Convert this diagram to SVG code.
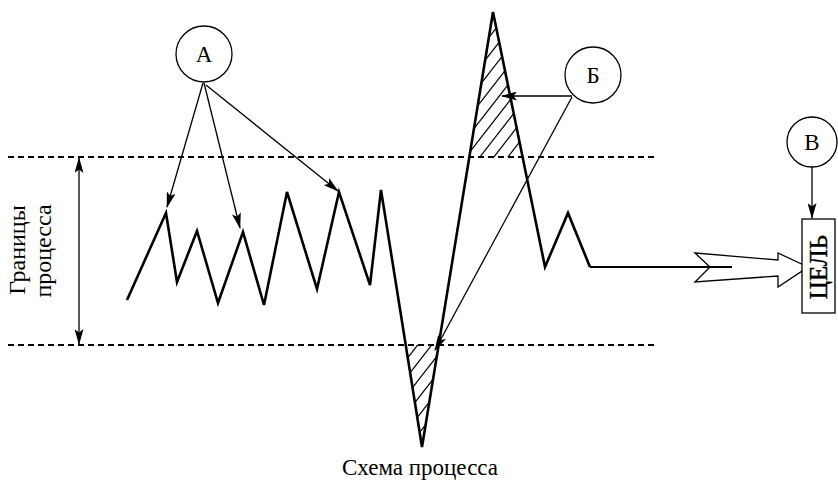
<svg xmlns="http://www.w3.org/2000/svg" width="838" height="482" viewBox="0 0 838 482">
<style>
.dash{stroke:#000;stroke-width:2;stroke-dasharray:6 4;fill:none}
.zig{stroke:#000;stroke-width:2.6;fill:none;stroke-linejoin:miter}
.thin{stroke:#000;stroke-width:1.3;fill:none}
.circ{stroke:#000;stroke-width:1.3;fill:#fff}
.lbl{font-family:"Liberation Serif","Times New Roman",serif;fill:#000}
</style>
<defs>
<marker id="ah" viewBox="0 0 16 9" markerWidth="16" markerHeight="9" refX="15" refY="4.5" orient="auto-start-reverse" markerUnits="userSpaceOnUse">
<path d="M0,0 L16,4.5 L0,9 L3.5,4.5 z" fill="#000"/>
</marker>
<pattern id="hatch" patternUnits="userSpaceOnUse" width="14" height="18">
<path d="M0,18 L14,0 M-2,2.5 L2,-2.5 M12,20.5 L16,15.5" stroke="#000" stroke-width="1.2"/>
</pattern>
</defs>
<g id="bounds">
<line class="dash" x1="8" y1="157" x2="657" y2="157"/>
<line class="dash" x1="8" y1="345" x2="657" y2="345"/>
</g>
<g id="hatching">
<polygon points="493,12 469,157 523,157" fill="url(#hatch)"/>
<polygon points="406,345 439,345 422,447" fill="url(#hatch)"/>
</g>
<g id="process">
<polyline class="zig" points="127,300 166,213 177,282 197,231 218,303 243,232 264,305 287,192 317,289 339,192 370,285 381,190 422,447 493,12 545,267 568,213 590,267"/>
<line x1="590" y1="267" x2="732" y2="267" stroke="#000" stroke-width="2"/>
</g>
<g id="goal-arrow">
<polygon class="thin" points="695,253 778,260 778,253 808,267 778,287 778,276 695,282 710,267"/>
</g>
<g id="connectors">
<line class="thin" x1="203" y1="83" x2="167" y2="207" marker-end="url(#ah)"/>
<line class="thin" x1="204" y1="83" x2="240" y2="228" marker-end="url(#ah)"/>
<line class="thin" x1="206" y1="85" x2="338" y2="191" marker-end="url(#ah)"/>
<line class="thin" x1="572" y1="96" x2="502" y2="96" marker-end="url(#ah)"/>
<line class="thin" x1="572" y1="97" x2="435" y2="350" marker-end="url(#ah)"/>
<line class="thin" x1="812" y1="167" x2="812" y2="218" marker-end="url(#ah)"/>
<line class="thin" x1="79" y1="158" x2="79" y2="344" marker-start="url(#ah)" marker-end="url(#ah)"/>
</g>
<g id="nodeA">
<circle class="circ" cx="204" cy="54" r="28"/>
<text class="lbl" x="204" y="62" font-size="23" text-anchor="middle">А</text>
</g>
<g id="nodeB1">
<circle class="circ" cx="593" cy="75" r="28"/>
<text class="lbl" x="593" y="83" font-size="23" text-anchor="middle">Б</text>
</g>
<g id="nodeV">
<circle class="circ" cx="812" cy="142" r="25"/>
<text class="lbl" x="812" y="150" font-size="23" text-anchor="middle">В</text>
</g>
<g id="goal">
<rect x="802" y="219" width="33" height="94" fill="#fff" stroke="#000" stroke-width="1.3"/>
<text class="lbl" transform="translate(827,267) rotate(-90)" font-size="25" stroke="#000" stroke-width="0.4" text-anchor="middle">ЦЕЛЬ</text>
</g>
<g id="labels">
<text class="lbl" transform="translate(25,250) rotate(-90)" font-size="24" text-anchor="middle">Границы</text>
<text class="lbl" transform="translate(51,251) rotate(-90)" font-size="24" text-anchor="middle">процесса</text>
<text class="lbl" x="420" y="475" font-size="23" text-anchor="middle">Схема процесса</text>
</g>
</svg>
